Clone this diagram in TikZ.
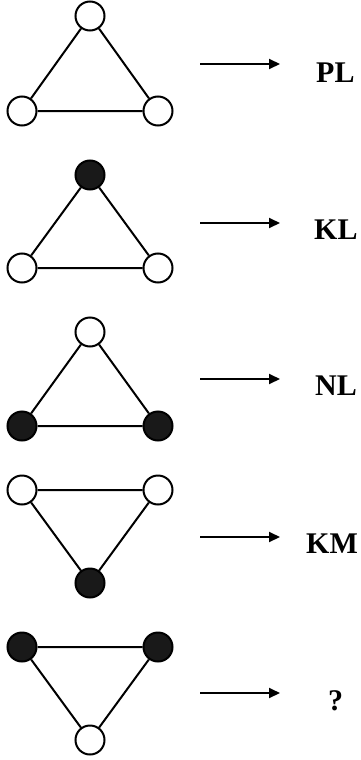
\documentclass[tikz,border=0pt]{standalone}
\usepackage{fontspec}
\setmainfont{Liberation Serif}
\usetikzlibrary{arrows.meta}
\begin{document}
\begin{tikzpicture}[x=1pt,y=-1pt,
  vtx/.style={circle,draw=black,line width=2pt,minimum size=29pt,inner sep=0pt},
  wv/.style={vtx,fill=white},
  bv/.style={vtx,fill=black!90},
  edge/.style={line width=2pt},
  arr/.style={line width=2pt,-{Triangle[length=11pt,width=10pt]}},
  lbl/.style={anchor=base west,inner sep=0pt,font=\fontsize{30}{34}\selectfont\bfseries}]
\useasboundingbox (0,0) rectangle (360,760);
% row 1
\node[wv] (a1) at (90,16) {};
\node[wv] (b1) at (22,111) {};
\node[wv] (c1) at (158,111) {};
\draw[edge] (a1) -- (b1) (b1) -- (c1) (c1) -- (a1);
\coordinate (s1) at (200,64); \coordinate (e1) at (280,64);
\draw[arr] (s1) -- (e1);
\node[lbl] (l1) at (316,82) {PL};
% row 2
\node[bv] (a2) at (90,175) {};
\node[wv] (b2) at (22,268) {};
\node[wv] (c2) at (158,268) {};
\draw[edge] (a2) -- (b2) (b2) -- (c2) (c2) -- (a2);
\coordinate (s2) at (200,223); \coordinate (e2) at (280,223);
\draw[arr] (s2) -- (e2);
\node[lbl] (l2) at (314,239) {KL};
% row 3
\node[wv] (a3) at (90,332) {};
\node[bv] (b3) at (22,426) {};
\node[bv] (c3) at (158,426) {};
\draw[edge] (a3) -- (b3) (b3) -- (c3) (c3) -- (a3);
\coordinate (s3) at (200,379); \coordinate (e3) at (280,379);
\draw[arr] (s3) -- (e3);
\node[lbl] (l3) at (315,395) {NL};
% row 4
\node[wv] (b4) at (22,490) {};
\node[wv] (c4) at (158,490) {};
\node[bv] (a4) at (90,583) {};
\draw[edge] (a4) -- (b4) (b4) -- (c4) (c4) -- (a4);
\coordinate (s4) at (200,537); \coordinate (e4) at (280,537);
\draw[arr] (s4) -- (e4);
\node[lbl] (l4) at (306,553) {KM};
% row 5
\node[bv] (b5) at (22,647) {};
\node[bv] (c5) at (158,647) {};
\node[wv] (a5) at (90,740) {};
\draw[edge] (a5) -- (b5) (b5) -- (c5) (c5) -- (a5);
\coordinate (s5) at (200,693); \coordinate (e5) at (280,693);
\draw[arr] (s5) -- (e5);
\node[lbl] (l5) at (328,710) {?};
\end{tikzpicture}
\end{document}
